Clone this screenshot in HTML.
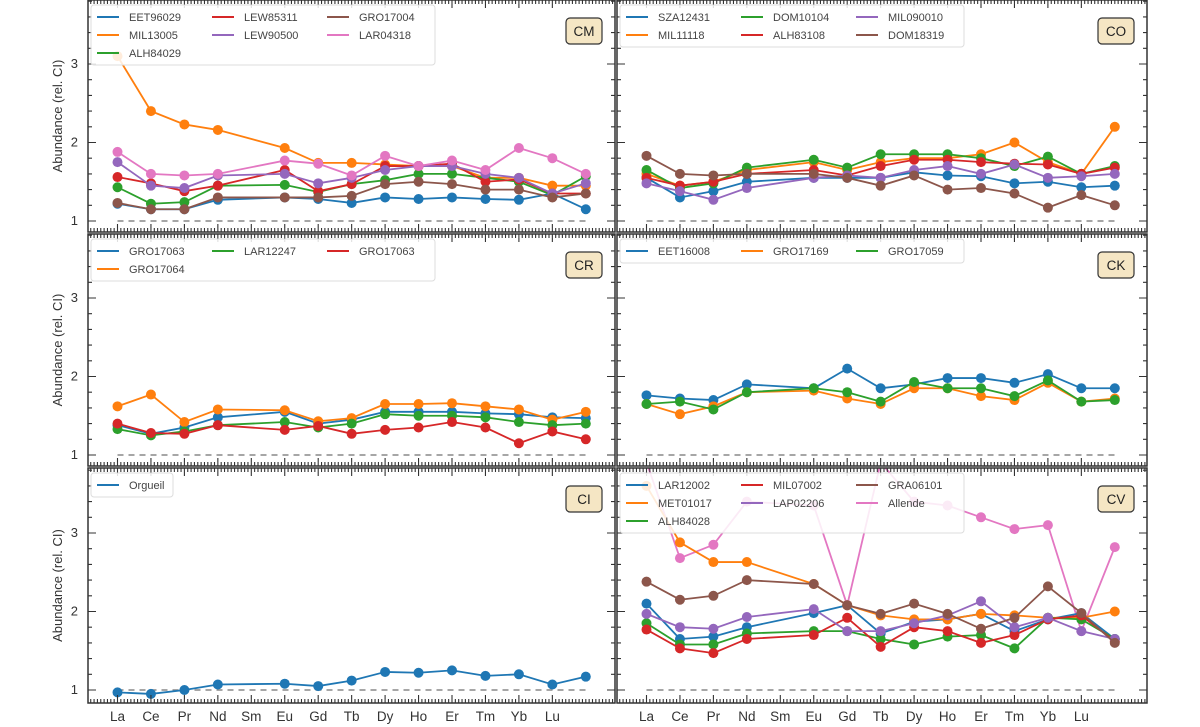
<!DOCTYPE html>
<html><head><meta charset="utf-8"><style>
html,body{margin:0;padding:0;background:#fff;}
svg{display:block;font-family:"Liberation Sans",sans-serif;}
</style></head><body>
<svg id="s" width="1200" height="727" xmlns="http://www.w3.org/2000/svg"></svg>
<script>
const S=document.getElementById('s');let h='';
const C={b:'#1f77b4',o:'#ff7f0e',g:'#2ca02c',r:'#d62728',p:'#9467bd',br:'#8c564b',pk:'#e377c2'};
const panels=[
 {x0:88,x1:615,y0:0,y1:232,ya:221,lab:'CM',yl:true,
  leg:[[['b','EET96029'],['o','MIL13005'],['g','ALH84029']],[['r','LEW85311'],['p','LEW90500']],[['br','GRO17004'],['pk','LAR04318']]],lw:344,
  s:[['b',[1.22,1.15,1.15,1.27,null,1.3,1.28,1.23,1.3,1.28,1.3,1.28,1.27,1.35,1.15]],
  ['o',[3.1,2.4,2.23,2.16,null,1.93,1.74,1.74,1.72,1.7,1.7,1.55,1.55,1.45,1.45]],
  ['g',[1.43,1.22,1.24,1.45,null,1.46,1.37,1.47,1.52,1.6,1.6,1.55,1.5,1.33,1.57]],
  ['r',[1.56,1.48,1.38,1.45,null,1.65,1.38,1.47,1.7,1.7,1.73,1.5,1.53,1.35,1.35]],
  ['p',[1.75,1.45,1.42,1.58,null,1.6,1.48,1.55,1.65,1.7,1.7,1.6,1.55,1.35,1.48]],
  ['br',[1.23,1.15,1.15,1.3,null,1.3,1.3,1.32,1.47,1.5,1.47,1.4,1.4,1.3,1.35]],
  ['pk',[1.88,1.6,1.58,1.6,null,1.77,1.73,1.58,1.83,1.7,1.77,1.65,1.93,1.8,1.6]]]},
 {x0:617,x1:1147,y0:0,y1:232,ya:221,lab:'CO',
  leg:[[['b','SZA12431'],['o','MIL11118']],[['g','DOM10104'],['r','ALH83108']],[['p','MIL090010'],['br','DOM18319']]],lw:344,
  s:[['b',[1.55,1.3,1.38,1.5,null,1.55,1.55,1.55,1.62,1.58,1.57,1.48,1.5,1.43,1.45]],
  ['o',[1.6,1.45,1.5,1.65,null,1.75,1.65,1.75,1.8,1.8,1.85,2.0,1.75,1.6,2.2]],
  ['g',[1.65,1.42,1.48,1.68,null,1.78,1.68,1.85,1.85,1.85,1.8,1.7,1.82,1.6,1.7]],
  ['r',[1.55,1.45,1.5,1.6,null,1.65,1.58,1.7,1.78,1.78,1.75,1.73,1.72,1.6,1.68]],
  ['p',[1.48,1.38,1.27,1.42,null,1.55,1.58,1.55,1.65,1.7,1.6,1.72,1.55,1.57,1.6]],
  ['br',[1.83,1.6,1.58,1.6,null,1.6,1.55,1.45,1.58,1.4,1.42,1.35,1.17,1.33,1.2]]]},
 {x0:88,x1:615,y0:234,y1:466,ya:455,lab:'CR',yl:true,
  leg:[[['b','GRO17063'],['o','GRO17064']],[['g','LAR12247']],[['r','GRO17063']]],lw:344,
  s:[['b',[1.38,1.27,1.35,1.48,null,1.55,1.4,1.45,1.55,1.55,1.55,1.53,1.52,1.48,1.47]],
  ['o',[1.62,1.77,1.42,1.58,null,1.57,1.43,1.47,1.65,1.65,1.66,1.62,1.58,1.45,1.55]],
  ['g',[1.33,1.25,1.3,1.38,null,1.42,1.35,1.4,1.52,1.5,1.5,1.48,1.42,1.38,1.4]],
  ['r',[1.4,1.28,1.27,1.38,null,1.32,1.37,1.27,1.32,1.35,1.42,1.35,1.15,1.3,1.2]]]},
 {x0:617,x1:1147,y0:234,y1:466,ya:455,lab:'CK',
  leg:[[['b','EET16008']],[['o','GRO17169']],[['g','GRO17059']]],lw:344,
  s:[['b',[1.76,1.72,1.7,1.9,null,1.85,2.1,1.85,1.9,1.98,1.98,1.92,2.03,1.85,1.85]],
  ['o',[1.65,1.52,1.62,1.8,null,1.82,1.72,1.65,1.85,1.85,1.75,1.7,1.92,1.68,1.72]],
  ['g',[1.65,1.68,1.58,1.8,null,1.85,1.8,1.68,1.93,1.85,1.85,1.75,1.95,1.68,1.7]]]},
 {x0:88,x1:615,y0:468,y1:703,ya:690,lab:'CI',yl:true,
  leg:[[['b','Orgueil']]],lw:82,
  s:[['b',[0.97,0.95,1.0,1.07,null,1.08,1.05,1.12,1.23,1.22,1.25,1.18,1.2,1.07,1.17]]]},
 {x0:617,x1:1147,y0:468,y1:703,ya:690,lab:'CV',
  leg:[[['b','LAR12002'],['o','MET01017'],['g','ALH84028']],[['r','MIL07002'],['p','LAP02206']],[['br','GRA06101'],['pk','Allende']]],lw:344,
  s:[['pk',[3.9,2.68,2.85,3.4,null,3.35,2.08,3.9,3.4,3.35,3.2,3.05,3.1,1.75,2.82]],
  ['b',[2.1,1.65,1.68,1.8,null,1.98,2.08,1.72,1.87,1.9,1.97,1.75,1.9,1.98,1.65]],
  ['o',[3.6,2.88,2.63,2.63,null,2.35,2.08,1.95,1.9,1.9,1.97,1.95,1.92,1.92,2.0]],
  ['g',[1.85,1.58,1.58,1.72,null,1.75,1.75,1.65,1.58,1.68,1.7,1.53,1.92,1.9,1.65]],
  ['r',[1.77,1.53,1.47,1.65,null,1.7,1.92,1.55,1.8,1.75,1.6,1.7,1.9,1.95,1.62]],
  ['p',[1.97,1.8,1.78,1.93,null,2.03,1.75,1.75,1.85,1.95,2.13,1.8,1.92,1.75,1.65]],
  ['br',[2.38,2.15,2.2,2.4,null,2.35,2.08,1.97,2.1,1.97,1.78,1.92,2.32,1.98,1.6]]]}
];
const els=['La','Ce','Pr','Nd','Sm','Eu','Gd','Tb','Dy','Ho','Er','Tm','Yb','Lu'];
const dx=33.45;
panels.forEach(P=>{
 const xl=P.x0+29.5;const X=i=>xl+i*dx;const Y=v=>P.ya-(v-1)*78.5;
 h+=`<clipPath id="c${P.lab}"><rect x="${P.x0}" y="${P.y0}" width="${P.x1-P.x0}" height="${P.y1-P.y0}"/></clipPath>`;
 h+=`<g clip-path="url(#c${P.lab})">`;
 h+=`<line x1="${X(0)}" x2="${X(14)}" y1="${P.ya}" y2="${P.ya}" stroke="#888" stroke-width="1.5" stroke-dasharray="6,5"/>`;
 P.s.forEach(([c,d])=>{let pts=[];d.forEach((v,i)=>{if(v!=null)pts.push([X(i),Y(v)])});
  h+=`<polyline points="${pts.map(p=>p.join(',')).join(' ')}" fill="none" stroke="${C[c]}" stroke-width="1.8"/>`;
  pts.forEach(p=>h+=`<circle cx="${p[0]}" cy="${p[1]}" r="5" fill="${C[c]}"/>`);});
 h+='</g>';
 let t='';
 for(let k=-10;k<=160;k++){const i=k/10;const x=X(i);if(x<=P.x0+1||x>=P.x1-1)continue;const maj=k%10==0&&k>=0&&k<=130;const L=maj?8:4;
  t+=`M${x} ${P.y1}v-${L}M${x} ${P.y0}v${L}`;}
 for(let v=0.8;v<4;v+=0.2){const y=Y(v);if(y<=P.y0+1||y>=P.y1-1)continue;const maj=Math.abs(v-Math.round(v))<0.01;const L=maj?8:4;
  t+=`M${P.x0} ${y}h${L}M${P.x1} ${y}h-${L}`;
  if(maj&&P.yl)h+=`<text x="${P.x0-10}" y="${y+4}" font-size="13" text-anchor="end" fill="#333">${Math.round(v)}</text>`;}
 h+=`<path d="${t}" stroke="#333" stroke-width="1.1"/>`;
 h+=`<rect x="${P.x0}" y="${P.y0}" width="${P.x1-P.x0}" height="${P.y1-P.y0}" fill="none" stroke="#333" stroke-width="1.5"/>`;
 const rows=Math.max(...P.leg.map(c=>c.length));
 h+=`<rect x="${P.x0+3}" y="${P.y0+5}" width="${P.lw}" height="${rows*18+6}" rx="3" fill="#fff" fill-opacity="0.85" stroke="#ddd"/>`;
 P.leg.forEach((col,ci)=>col.forEach(([c,n],ri)=>{const lx=P.x0+9+ci*115,ly=P.y0+17+ri*18;
  h+=`<line x1="${lx}" x2="${lx+22}" y1="${ly}" y2="${ly}" stroke="${C[c]}" stroke-width="2"/><text x="${lx+32}" y="${ly+4}" font-size="11" fill="#444">${n}</text>`;}));
 h+=`<rect x="${P.x1-49}" y="${P.y0+18}" width="36" height="26" rx="4" fill="#f5e6c4" stroke="#333" stroke-width="1.2"/><text x="${P.x1-31}" y="${P.y0+36}" font-size="13.5" text-anchor="middle" fill="#222">${P.lab}</text>`;
 if(P.yl)h+=`<text transform="translate(${P.x0-26},${(P.y0+P.y1)/2}) rotate(-90)" font-size="13" text-anchor="middle" fill="#333">Abundance (rel. CI)</text>`;
 if(P.y0>400)els.forEach((e,i)=>h+=`<text x="${X(i)}" y="721" font-size="13.5" text-anchor="middle" fill="#333">${e}</text>`);
});
S.innerHTML=h;
</script>
</body></html>
